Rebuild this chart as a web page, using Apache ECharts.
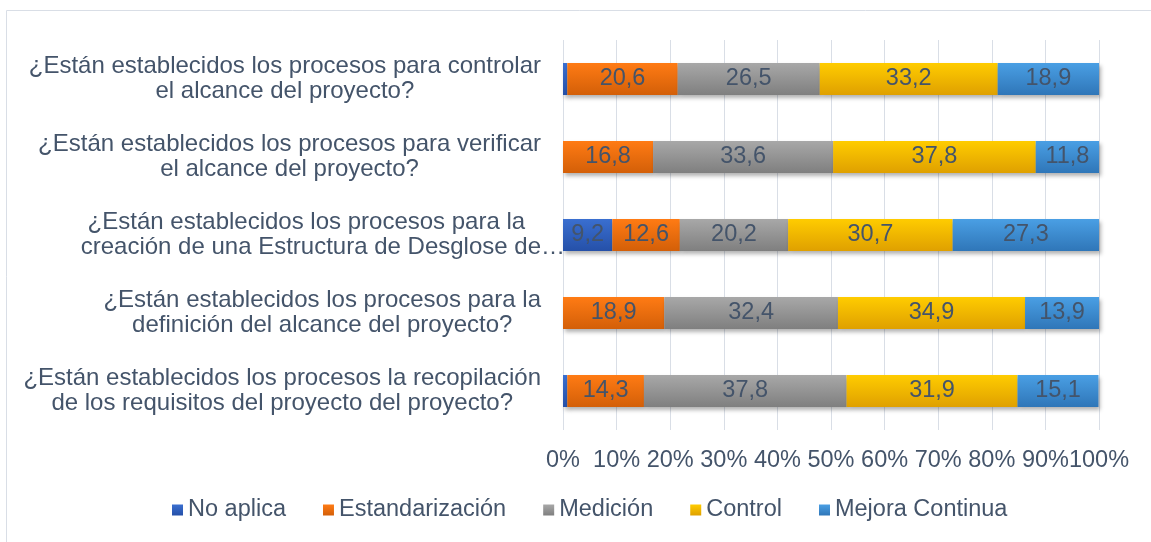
<!DOCTYPE html>
<html>
<head>
<meta charset="utf-8">
<script src="https://cdn.jsdelivr.net/npm/echarts@6/dist/echarts.min.js"></script>
<style>
  html, body { margin: 0; padding: 0; background: #fff; }
  #chart { width: 1151px; height: 542px; }
</style>
</head>
<body>
<div id="chart"></div>
<script>
// categories, bottom to top as echarts draws them
var categories = [
  '¿Están establecidos los procesos la recopilación\nde los requisitos del proyecto del proyecto?',
  '¿Están establecidos los procesos para la\ndefinición del alcance del proyecto?',
  '¿Están establecidos los procesos para la\ncreación de una Estructura de Desglose de…',
  '¿Están establecidos los procesos para verificar\nel alcance del proyecto?',
  '¿Están establecidos los procesos para controlar\nel alcance del proyecto?'
]
var seriesNames = ['No aplica', 'Estandarización', 'Medición', 'Control', 'Mejora Continua']
var noAplica = [0.8, 0, 9.2, 0, 0.8]
var estandarizacion = [14.3, 18.9, 12.6, 16.8, 20.6]
var medicion = [37.8, 32.4, 20.2, 33.6, 26.5]
var control = [31.9, 34.9, 30.7, 37.8, 33.2]
var mejoraContinua = [15.1, 13.9, 27.3, 11.8, 18.9]

var values = [noAplica, estandarizacion, medicion, control, mejoraContinua]
var colors = [
  ['#3a6fd0', '#2550a8'],
  ['#ff7b14', '#d35f08'],
  ['#a8a8a8', '#7f7f7f'],
  ['#ffcc00', '#dfa000'],
  ['#4a9fe4', '#2f76b8']
]
var textColor = '#44546A'
var fontSize = 23.5

var myChart = echarts.init(document.getElementById('chart'))

var series = seriesNames.map(function (name, i) {
  return {
    name: name,
    type: 'bar',
    stack: 'total',
    barWidth: 32,
    data: values[i],
    itemStyle: {
      color: new echarts.graphic.LinearGradient(0, 0, 0, 1, [
        { offset: 0, color: colors[i][0] },
        { offset: 1, color: colors[i][1] }
      ]),
      shadowColor: 'rgba(0,0,0,0.3)',
      shadowBlur: 4,
      shadowOffsetX: 2,
      shadowOffsetY: 3
    },
    label: {
      show: true,
      position: 'inside',
      color: textColor,
      fontSize: fontSize,
      fontFamily: 'Liberation Sans, Arial, sans-serif',
      formatter: function (p) {
        if (p.value < 2) return ''
        return String(p.value).replace('.', ',')
      }
    }
  }
})

myChart.setOption({
  animation: false,
  textStyle: { fontFamily: 'Liberation Sans, Arial, sans-serif' },
  graphic: [{
    type: 'rect',
    shape: { x: 6.5, y: 10.5, width: 1200, height: 600 },
    style: { fill: 'none', stroke: '#d9dee6', lineWidth: 1 },
    silent: true
  }],
  grid: {
    left: 563,
    right: 52,
    top: 40,
    bottom: 112
  },
  legend: {
    data: seriesNames,
    bottom: 15,
    left: 167,
    itemWidth: 11,
    itemHeight: 11,
    itemGap: 37,
    icon: 'rect',
    textStyle: { color: textColor, fontSize: fontSize }
  },
  xAxis: {
    type: 'value',
    min: 0,
    max: 100,
    interval: 10,
    axisLine: { show: false },
    axisTick: { show: false },
    splitLine: { lineStyle: { color: '#d9dee6' } },
    axisLabel: {
      color: textColor,
      fontSize: fontSize,
      margin: 19,
      formatter: '{value}%'
    }
  },
  yAxis: {
    type: 'category',
    data: categories,
    axisLine: { show: false },
    axisTick: { show: false },
    axisLabel: {
      margin: -2,
      color: textColor,
      fontSize: 24,
      lineHeight: 25,
      formatter: function (v) {
        var lines = v.split('\n')
        // the truncated label overflows to the right like in the original
        if (v.indexOf('…') >= 0) {
          return '{a|' + lines[0] + '}\n{b|' + lines[1] + '}'
        }
        return lines.map(function (s) { return '{c|' + s + '}' }).join('\n')
      },
      rich: {
        a: { align: 'center', color: textColor, fontSize: 24, lineHeight: 25, padding: [0, 33, 0, 0] },
        b: { align: 'center', color: textColor, fontSize: 24, lineHeight: 25 },
        c: { align: 'center', color: textColor, fontSize: 24, lineHeight: 25, padding: [0, 24, 0, 0] }
      }
    }
  },
  series: series
})
</script>
</body>
</html>
